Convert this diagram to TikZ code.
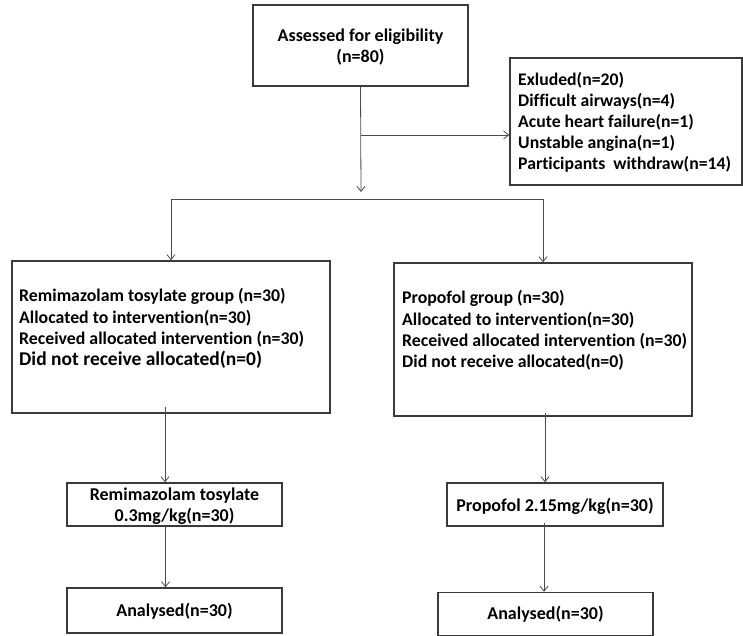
\documentclass[tikz,border=0pt]{standalone}
\usepackage{fontspec}
\setmainfont{Carlito}[Ligatures=NoCommon]
\usetikzlibrary{arrows.meta}
\definecolor{boxline}{HTML}{3A3A3A}
\definecolor{arrline}{HTML}{4A4A4A}
\tikzset{
  box/.style={draw=boxline, line width=1.4pt, inner sep=0pt},
  txt/.style={font=\fontsize{17.8}{21.2}\selectfont\bfseries, align=left, inner sep=0pt},
  btxt/.style={font=\fontsize{17.7}{21}\selectfont\bfseries, align=left, inner sep=0pt},
  ctxt/.style={font=\fontsize{18}{21}\selectfont\bfseries, align=center, inner sep=0pt},
  arr/.style={draw=arrline, line width=0.8pt, -{Straight Barb[length=5pt,width=8pt]}},
  ln/.style={draw=arrline, line width=0.8pt}
}
\begin{document}
\begin{tikzpicture}[x=1pt,y=-1pt]
\useasboundingbox (0,0) rectangle (743,636);
% top box
\node[box, minimum width=215, minimum height=81] (top) at (360.5,45.5) {};
\node[ctxt] (toptxt) at (360.5,47) {Assessed for eligibility\\(n=80)};
% excluded
\node[box, minimum width=232, minimum height=127] (excl) at (626,121.5) {};
\node[btxt, anchor=west] (excltxt) at (518,122) {Exluded(n=20)\\Difficult airways(n=4)\\Acute heart failure(n=1)\\Unstable angina(n=1)\\Participants\ \ withdraw(n=14)};
% big boxes
\node[box, minimum width=318, minimum height=152] (lbox) at (171,337) {};
\node[txt, anchor=west] (lboxtxt) at (19,328.5) {Remimazolam tosylate group (n=30)\\Allocated to intervention(n=30)\\Received allocated intervention (n=30)\\{\fontsize{19.5}{21.2}\selectfont Did not receive allocated(n=0)}};
\node[box, minimum width=298, minimum height=153] (rbox) at (543,339.5) {};
\node[txt, anchor=west] (rboxtxt) at (402,330.5) {Propofol group (n=30)\\Allocated to intervention(n=30)\\Received allocated intervention (n=30)\\Did not receive allocated(n=0)};
% mid boxes
\node[box, minimum width=215, minimum height=43] (lmid) at (174.5,504.5) {};
\node[ctxt] (lmidtxt) at (174.5,506) {Remimazolam tosylate\\0.3mg/kg(n=30)};
\node[box, minimum width=216, minimum height=43] (rmid) at (555,504.5) {};
\node[ctxt] (rmidtxt) at (555,506) {Propofol 2.15mg/kg(n=30)};
% analysed
\node[box, minimum width=215, minimum height=45] (lan) at (174.5,610.5) {};
\node[ctxt] (lantxt) at (174.5,611) {Analysed(n=30)};
\node[box, minimum width=215, minimum height=43] (ran) at (545.5,614) {};
\node[ctxt] (rantxt) at (545.5,614) {Analysed(n=30)};
% connectors
\coordinate (split) at (361,192);
\coordinate (branch) at (361,135);
\coordinate (sl) at (171,199);
\coordinate (sr) at (543,199);
\draw[arr] (top.south) -- (split);
\draw[arr] (branch) -- (branch -| excl.west);
\draw[ln] (sl) -- (sr);
\draw[arr] (sl) -- (sl |- lbox.north);
\draw[arr] (sr) -- (sr |- rbox.north);
\draw[arr] ([xshift=-6pt,yshift=7pt]lbox.south) -- ([xshift=-9.5pt]lmid.north);
\draw[arr] ([xshift=-9pt]lmid.south) -- ([xshift=-9pt]lan.north);
\draw[arr] ([xshift=2pt,yshift=4pt]rbox.south) -- ([xshift=-10pt]rmid.north);
\draw[arr] ([xshift=-11pt,yshift=4pt]rmid.south) -- ([xshift=-1.5pt]ran.north);
\end{tikzpicture}
\end{document}
